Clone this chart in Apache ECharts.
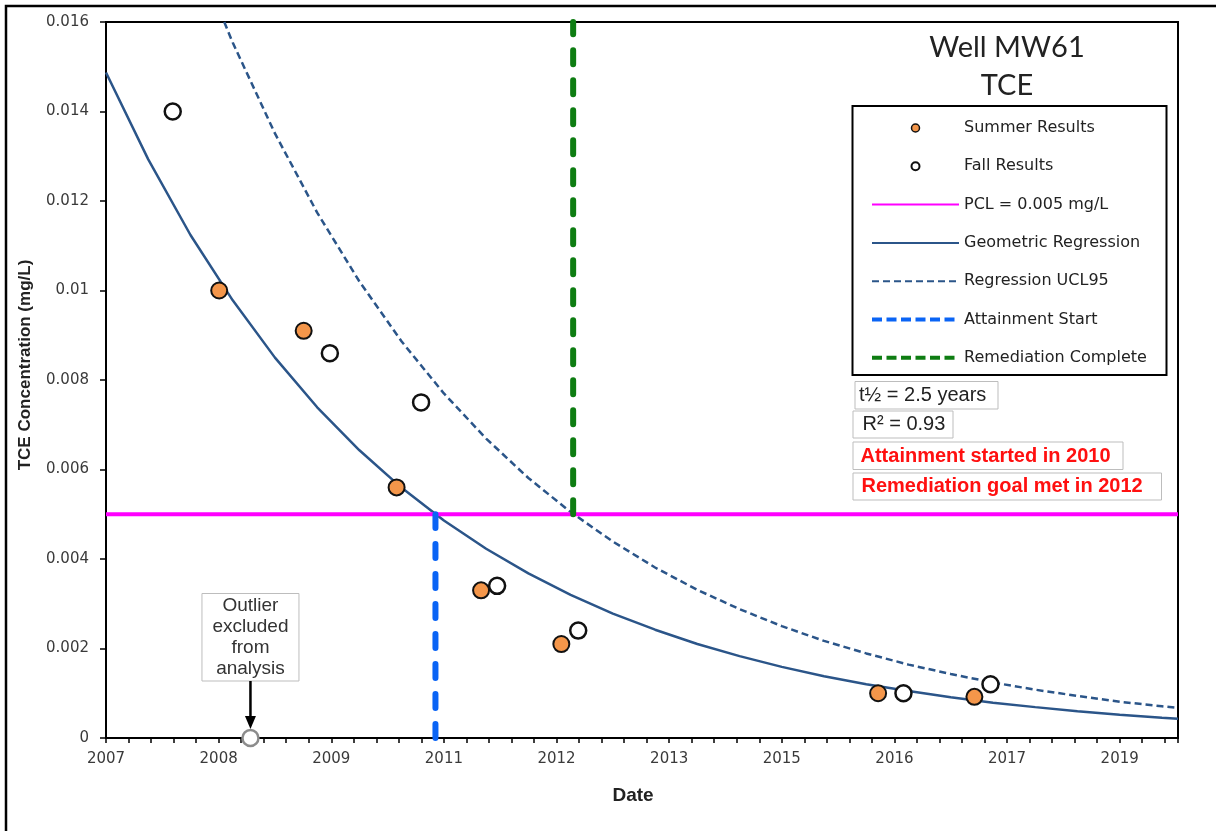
<!DOCTYPE html>
<html>
<head>
<meta charset="utf-8">
<script src="https://cdn.jsdelivr.net/npm/echarts@6/dist/echarts.min.js"></script>
<style>html,body{margin:0;padding:0;background:#fff}#c{width:1216px;height:831px}</style>
</head>
<body>
<div id="c"></div>
<script>
// ---- data (dates as decimal years, concentrations in mg/L) ----
const tickLabels = ['2007','2008','2009','2011','2012','2013','2015','2016','2017','2019'];
const yTickLabels = ['0','0.002','0.004','0.006','0.008','0.01','0.012','0.014','0.016'];

const summerYears = [2008.34, 2009.34, 2010.44, 2011.44, 2012.39, 2016.14, 2017.28];
const summerTCE   = [0.0100, 0.0091, 0.0056, 0.0033, 0.0021, 0.0010, 0.00092];

const fallYears = [2007.79, 2009.65, 2010.73, 2011.63, 2012.59, 2016.44, 2017.47];
const fallTCE   = [0.0140, 0.0086, 0.0075, 0.0034, 0.0024, 0.0010, 0.0012];

const outlierYears = [2008.71];
const outlierTCE   = [0];

const regYears = [2007, 2007.5, 2008, 2008.5, 2009, 2009.5, 2010, 2010.5, 2011, 2011.5, 2012, 2012.5, 2013, 2013.5,
                  2014, 2014.5, 2015, 2015.5, 2016, 2016.5, 2017, 2017.5, 2018, 2018.5, 2019, 2019.5, 2019.69];
const regTCE   = [0.01487, 0.01293, 0.01124, 0.00978, 0.00850, 0.00739, 0.00643, 0.00559, 0.00486, 0.00423, 0.00368,
                  0.00320, 0.00278, 0.00242, 0.00210, 0.00183, 0.00159, 0.00138, 0.00120, 0.00105, 0.00091, 0.00079,
                  0.00069, 0.00060, 0.00052, 0.00045, 0.00043];

const uclYears = [2008.40, 2008.5, 2009, 2009.5, 2010, 2010.5, 2011, 2011.5, 2012, 2012.5, 2013, 2013.5, 2014, 2014.5,
                  2015, 2015.5, 2016, 2016.5, 2017, 2017.5, 2018, 2018.5, 2019, 2019.5, 2019.69];
const uclTCE   = [0.0160, 0.01554, 0.01351, 0.01174, 0.01020, 0.00886, 0.00770, 0.00669, 0.00581, 0.00505, 0.00439,
                  0.00381, 0.00331, 0.00288, 0.00250, 0.00217, 0.00189, 0.00164, 0.00143, 0.00124, 0.00108, 0.00094,
                  0.00081, 0.00071, 0.00067];

const pclValue = 0.005;
const attainmentYear = 2010.90;
const remediationYear = 2012.53;
const startYear = 2007;
const endYear = 2019.69;
const yMax = 0.016;

// ---- chart ----
const tickStep = 4 / 3;       // axis major unit (years)
const yStep = 0.002;
const X = y => +(y - startYear).toFixed(4);
const pairs = (xs, ys) => xs.map((x, i) => [X(x), ys[i]]);

const chart = echarts.init(document.getElementById('c'), null, {renderer: 'canvas'});

const darkBlue = '#2B5589';
const fontTick = 'DejaVu Sans';
const noDot = {opacity: 0, borderWidth: 0};

const option = {
  animation: false,
  backgroundColor: '#fff',
  title: {
    text: 'Well MW61\nTCE',
    left: 1007, top: 29, textAlign: 'center', padding: 0,
    textStyle: {fontFamily: 'Lato', fontSize: 29, fontWeight: 'normal', color: '#222', lineHeight: 38}
  },
  grid: {left: 106, right: 38, top: 22, bottom: 93, show: true, borderColor: '#000', borderWidth: 2, backgroundColor: 'transparent'},
  legend: {
    orient: 'vertical', left: 870, top: 120, padding: 0,
    itemWidth: 87, itemHeight: 8, itemGap: 22.3, itemTextGap: 8,
    selectedMode: false,
    textStyle: {fontFamily: fontTick, fontSize: 16, color: '#222'},
    data: [
      {name: 'Summer Results', itemStyle: {borderWidth: 1.5}},
      {name: 'Fall Results', itemStyle: {borderWidth: 2}},
      {name: 'PCL = 0.005 mg/L', itemStyle: noDot},
      {name: 'Geometric Regression', itemStyle: noDot},
      {name: 'Regression UCL95', itemStyle: noDot},
      {name: 'Attainment Start', itemStyle: noDot, lineStyle: {width: 4, type: [10, 4.5], cap: 'butt'}},
      {name: 'Remediation Complete', itemStyle: noDot, lineStyle: {width: 4, type: [10, 4.5], cap: 'butt'}}
    ]
  },
  xAxis: [{
    type: 'value', min: 0, max: X(endYear), interval: tickStep,
    axisLine: {onZero: false, lineStyle: {color: '#000', width: 2}},
    axisTick: {show: false},
    splitLine: {show: false},
    axisLabel: {
      margin: 14, color: '#3a3a3a', fontFamily: fontTick, fontSize: 15, showMaxLabel: false,
      formatter: v => {
        const i = Math.round(v / tickStep);
        return Math.abs(v - i * tickStep) < 1e-6 ? (tickLabels[i] || '') : '';
      }
    },
    name: 'Date', nameLocation: 'middle', nameGap: 48,
    nameTextStyle: {fontFamily: 'Liberation Sans', fontSize: 19, fontWeight: 'bold', color: '#222', padding: [0, 18, 0, 0]}
  }, {
    type: 'value', min: 0, max: X(endYear), interval: tickStep / 5, position: 'bottom',
    axisLine: {show: false, onZero: false},
    axisTick: {show: true, length: 5, lineStyle: {color: '#000', width: 1.5}},
    axisLabel: {show: false},
    splitLine: {show: false}
  }],
  yAxis: {
    type: 'value', min: 0, max: yMax, interval: yStep,
    axisLine: {show: true, lineStyle: {color: '#000', width: 2}},
    axisTick: {show: true, length: 6, lineStyle: {color: '#000', width: 1.5}},
    splitLine: {show: false},
    axisLabel: {
      margin: 17, color: '#3a3a3a', fontFamily: fontTick, fontSize: 15,
      formatter: v => yTickLabels[Math.round(v / yStep)] || ''
    },
    name: 'TCE Concentration (mg/L)', nameLocation: 'middle', nameGap: 72, nameRotate: 90,
    nameTextStyle: {fontFamily: 'Liberation Sans', fontSize: 17, fontWeight: 'bold', color: '#222', padding: [0, 0, 0, 30]}
  },
  series: [
    {
      name: 'PCL = 0.005 mg/L', type: 'line', data: [[0, pclValue], [X(endYear), pclValue]],
      symbol: 'none', lineStyle: {color: '#FF00FF', width: 4}, itemStyle: {color: '#FF00FF'}, z: 3, silent: true
    },
    {
      name: 'Geometric Regression', type: 'line', data: pairs(regYears, regTCE),
      symbol: 'none', lineStyle: {color: darkBlue, width: 2.5}, itemStyle: {color: darkBlue}, z: 2, silent: true
    },
    {
      name: 'Regression UCL95', type: 'line', data: pairs(uclYears, uclTCE),
      symbol: 'none', lineStyle: {color: darkBlue, width: 2.5, type: [7, 4]}, itemStyle: {color: darkBlue}, z: 2, silent: true
    },
    {
      name: 'Attainment Start', type: 'line', data: [[X(attainmentYear), 0], [X(attainmentYear), pclValue]],
      symbol: 'none', lineStyle: {color: '#0A64F5', width: 6, type: [14, 16], cap: 'round'}, itemStyle: {color: '#0A64F5'}, z: 4, silent: true
    },
    {
      name: 'Remediation Complete', type: 'line', data: [[X(remediationYear), pclValue], [X(remediationYear), yMax]],
      symbol: 'none', lineStyle: {color: '#0E7D12', width: 6, type: [14, 16], cap: 'round'}, itemStyle: {color: '#0E7D12'}, z: 4, silent: true
    },
    {
      name: 'Summer Results', type: 'scatter', data: pairs(summerYears, summerTCE), clip: false,
      symbol: 'circle', symbolSize: 16, itemStyle: {color: '#F4964A', borderColor: '#111', borderWidth: 2, opacity: 1}, z: 6, silent: true
    },
    {
      name: 'Fall Results', type: 'scatter', data: pairs(fallYears, fallTCE), clip: false,
      symbol: 'circle', symbolSize: 16, itemStyle: {color: '#fff', borderColor: '#111', borderWidth: 2.5, opacity: 1}, z: 6, silent: true
    },
    {
      name: 'Outlier', type: 'scatter', data: pairs(outlierYears, outlierTCE), clip: false,
      symbol: 'circle', symbolSize: 16, itemStyle: {color: '#fff', borderColor: '#8c8c8c', borderWidth: 2.5, opacity: 1}, z: 6, silent: true
    }
  ]
};
chart.setOption(option);

// ---- annotations ----
const op = chart.convertToPixel({xAxisIndex: 0, yAxisIndex: 0}, [X(outlierYears[0]), outlierTCE[0]]);
const ax = op[0];
const graphics = [
  {type: 'rect', silent: true, shape: {x: 6, y: 6, width: 1240, height: 860}, style: {fill: 'none', stroke: '#000', lineWidth: 2.5}},
  {type: 'rect', silent: true, shape: {x: 852.5, y: 106, width: 314, height: 269}, style: {fill: 'none', stroke: '#000', lineWidth: 2}},
  {type: 'rect', silent: true, shape: {x: 855, y: 381.5, width: 143, height: 27.5}, style: {fill: '#fff', stroke: '#BDBDBD', lineWidth: 1}},
  {type: 'rect', silent: true, shape: {x: 853, y: 411, width: 100, height: 27}, style: {fill: '#fff', stroke: '#BDBDBD', lineWidth: 1}},
  {type: 'rect', silent: true, shape: {x: 853, y: 442, width: 270, height: 27.5}, style: {fill: '#fff', stroke: '#BDBDBD', lineWidth: 1}},
  {type: 'rect', silent: true, shape: {x: 853, y: 473, width: 308.5, height: 27}, style: {fill: '#fff', stroke: '#BDBDBD', lineWidth: 1}},
  {type: 'text', silent: true, x: 859, y: 395.5, style: {text: 't½ = 2.5 years', font: '20px "Liberation Sans"', fill: '#222', verticalAlign: 'middle'}},
  {type: 'text', silent: true, x: 862.5, y: 424.5, style: {text: 'R² = 0.93', font: '20px "Liberation Sans"', fill: '#222', verticalAlign: 'middle'}},
  {type: 'text', silent: true, x: 860.5, y: 456, style: {text: 'Attainment started in 2010', font: 'bold 20px "Liberation Sans"', fill: '#FF1010', verticalAlign: 'middle'}},
  {type: 'text', silent: true, x: 861.5, y: 486.5, style: {text: 'Remediation goal met in 2012', font: 'bold 20px "Liberation Sans"', fill: '#FF1010', verticalAlign: 'middle'}},
  {type: 'rect', silent: true, shape: {x: ax - 48.5, y: 593.5, width: 97, height: 87.5}, style: {fill: '#fff', stroke: '#BDBDBD', lineWidth: 1}},
  {type: 'text', silent: true, x: ax, y: 637, style: {text: 'Outlier\nexcluded\nfrom\nanalysis', font: '19px "Liberation Sans"', lineHeight: 21, fill: '#333', align: 'center', verticalAlign: 'middle'}},
  {type: 'line', silent: true, shape: {x1: ax, y1: 681, x2: ax, y2: 718}, style: {stroke: '#000', lineWidth: 2.5}},
  {type: 'polygon', silent: true, shape: {points: [[ax - 5.5, 716], [ax + 5.5, 716], [ax, 729]]}, style: {fill: '#000'}}
];
chart.setOption({graphic: graphics});
</script>
</body>
</html>
